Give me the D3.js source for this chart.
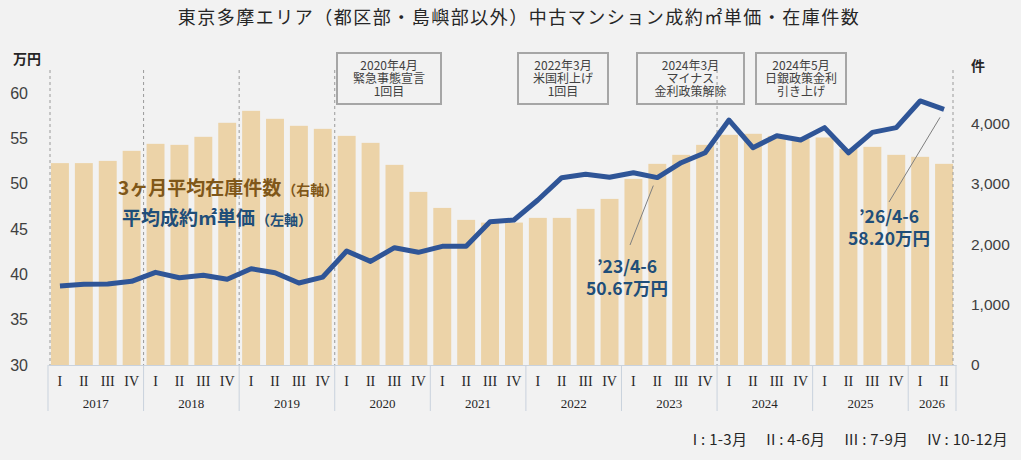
<!DOCTYPE html>
<html>
<head>
<meta charset="utf-8">
<script src="https://cdn.jsdelivr.net/npm/d3@7"></script>
<style>
body { margin: 0; background: #f2f2f2; }
text { font-family: "Noto Sans CJK JP", "Noto Sans", sans-serif; }
</style>
</head>
<body>
<div id="chart"></div>
<script>
// Data

var years = [2017, 2018, 2019, 2020, 2021, 2022, 2023, 2024, 2025, 2026];
var quarters = ["I", "II", "III", "IV"];

// 3ヶ月平均在庫件数 (右軸)
var inventory = [3340, 3340, 3377, 3543, 3659, 3642, 3775, 4007, 4205, 4073, 3957, 3907,
  3791, 3675, 3311, 2864, 2599, 2401, 2356, 2356, 2434, 2434, 2583, 2748,
  3079, 3328, 3477, 3642, 3808, 3825, 3790, 3740, 3764, 3576, 3609, 3477,
  3444, 3328];

// 平均成約㎡単価 (左軸, 万円)
var price = [38.71, 38.90, 38.93, 39.23, 40.22, 39.63, 39.89, 39.45, 40.62, 40.18, 39.04, 39.70,
  42.57, 41.43, 42.94, 42.43, 43.09, 43.09, 45.81, 45.99, 48.20, 50.66, 51.03, 50.70,
  51.21, 50.67, 52.31, 53.41, 57.02, 53.97, 55.29, 54.82, 56.18, 53.41, 55.66, 56.18,
  59.12, 58.20];

var leftTicks = [30, 35, 40, 45, 50, 55, 60];
var rightTicks = [0, 1000, 2000, 3000, 4000];

var events = [
  ["2020年4月", "緊急事態宣言", "1回目"],
  ["2022年3月", "米国利上げ", "1回目"],
  ["2024年3月", "マイナス", "金利政策解除"],
  ["2024年5月", "日銀政策金利", "引き上げ"]
];
var eventBoxX = [337, 518, 637, 756];
var eventBoxW = [104, 90, 107, 90];

// period index of the dashed divider lines
var dividers = [0, 4, 8, 12, 28, 38];

var callouts = [
  {i: 25, lines: ["’23/4-6", "50.67万円"]},
  {i: 37, lines: ["’26/4-6", "58.20万円"]}
];

var periods = [];
years.forEach(function(y) {
  quarters.forEach(function(q) {
    if (periods.length < inventory.length) periods.push(y + "-" + q);
  });
});

var W = 1021, H = 460;
var plotTop = 93, plotBottom = 365;

var x = d3.scaleBand()
    .domain(periods)
    .range([48, 956])
    .paddingInner(0.25)
    .paddingOuter(0.125);

var yLeft = d3.scaleLinear().domain([30, 60]).range([plotBottom, plotTop]);
var yRight = d3.scaleLinear().domain([0, 4500]).range([plotBottom, plotTop]);

var svg = d3.select("#chart").append("svg")
    .attr("width", W)
    .attr("height", H);

svg.append("rect").attr("width", W).attr("height", H).attr("fill", "#f2f2f2");

// Title
svg.append("text")
    .attr("x", 519)
    .attr("y", 24)
    .attr("text-anchor", "middle")
    .style("font-size", "18px")
    .style("letter-spacing", "1.5px")
    .attr("fill", "#262626")
    .text("東京多摩エリア（都区部・島嶼部以外）中古マンション成約㎡単価・在庫件数");

// Bars
svg.append("g").selectAll(".bar")
    .data(inventory)
    .enter().append("rect")
    .attr("class", "bar")
    .attr("x", function(d, i) { return x(periods[i]); })
    .attr("y", function(d) { return yRight(d); })
    .attr("width", x.bandwidth())
    .attr("height", function(d) { return plotBottom - yRight(d); })
    .attr("fill", "#ecd3a8");

// Dashed divider lines
var step = x.step();
svg.append("g").selectAll(".divider")
    .data(dividers)
    .enter().append("line")
    .attr("x1", function(d) { return 48 + step * d + (d === 0 ? 2 : d === 38 ? -3 : 0); })
    .attr("x2", function(d) { return 48 + step * d + (d === 0 ? 2 : d === 38 ? -3 : 0); })
    .attr("y1", 70)
    .attr("y2", plotBottom)
    .attr("stroke", "#9a9a9a")
    .attr("stroke-width", 1)
    .attr("stroke-dasharray", "3,3");

// Event boxes
var boxes = svg.append("g").selectAll(".event")
    .data(events)
    .enter().append("g")
    .attr("class", "event");

boxes.append("rect")
    .attr("x", function(d, i) { return eventBoxX[i]; })
    .attr("y", 53)
    .attr("width", function(d, i) { return eventBoxW[i]; })
    .attr("height", 51)
    .attr("fill", "none")
    .attr("stroke", "#a6a6a6")
    .attr("stroke-width", 2);

boxes.append("text")
    .attr("text-anchor", "middle")
    .style("font-size", "12px")
    .attr("fill", "#404040")
    .each(function(d, i) {
      var t = d3.select(this);
      var cx = eventBoxX[i] + eventBoxW[i] / 2;
      d.forEach(function(line, k) {
        t.append("tspan")
            .attr("x", cx)
            .attr("y", 69.5 + k * 13.4)
            .text(line);
      });
    });

// Price line
var line = d3.line()
    .x(function(d, i) { return x(periods[i]) + x.bandwidth() / 2; })
    .y(function(d) { return yLeft(d); });

svg.append("path")
    .datum(price)
    .attr("d", line)
    .attr("fill", "none")
    .attr("stroke", "#2f5597")
    .attr("stroke-width", 5)
    .attr("stroke-linejoin", "round");

// Left axis
var leftAxis = svg.append("g")
    .attr("transform", "translate(28,0)")
    .call(d3.axisLeft(yLeft).tickValues(leftTicks).tickSize(0).tickPadding(0));
leftAxis.select(".domain").remove();
leftAxis.selectAll("text")
    .style("font-family", "'Liberation Sans', Arial, sans-serif")
    .style("font-size", "16px")
    .attr("fill", "#404040");

// Right axis
var rightAxis = svg.append("g")
    .attr("transform", "translate(971,0)")
    .call(d3.axisRight(yRight).tickValues(rightTicks).tickFormat(d3.format(",")).tickSize(0).tickPadding(0));
rightAxis.select(".domain").remove();
rightAxis.selectAll("text")
    .style("font-family", "'Liberation Sans', Arial, sans-serif")
    .style("font-size", "15.5px")
    .attr("fill", "#404040");

// Unit labels
svg.append("text").attr("x", 13).attr("y", 64)
    .style("font-size", "14px").style("font-weight", "bold").attr("fill", "#262626")
    .text("万円");
svg.append("text").attr("x", 971).attr("y", 71)
    .style("font-size", "14px").style("font-weight", "bold").attr("fill", "#262626")
    .text("件");

// Bottom category axis
var bottomAxis = svg.append("g")
    .attr("transform", "translate(0," + plotBottom + ")")
    .call(d3.axisBottom(x).tickSize(0).tickPadding(11)
      .tickFormat(function(d) { return d.split("-")[1]; }));
bottomAxis.select(".domain").attr("stroke", "#c9d2dd");
bottomAxis.selectAll("text")
    .style("font-family", "'Liberation Serif', 'DejaVu Serif', serif")
    .style("font-size", "14px")
    .attr("fill", "#262626");

var yearBounds = years.map(function(y, k) {
  var first = periods.indexOf(y + "-I");
  var n = periods.filter(function(p) { return p.indexOf(y + "-") === 0; }).length;
  return {year: y, x0: 48 + step * first, x1: 48 + step * (first + n)};
});

svg.append("g").selectAll(".yearSep")
    .data([yearBounds[0].x0].concat(yearBounds.map(function(d) { return d.x1; })))
    .enter().append("line")
    .attr("x1", function(d) { return d; })
    .attr("x2", function(d) { return d; })
    .attr("y1", plotBottom)
    .attr("y2", 411)
    .attr("stroke", "#c9d2dd");

svg.append("g").selectAll(".yearText")
    .data(yearBounds)
    .enter().append("text")
    .attr("x", function(d) { return (d.x0 + d.x1) / 2; })
    .attr("y", 407.5)
    .attr("text-anchor", "middle")
    .style("font-family", "'Liberation Serif', 'DejaVu Serif', serif")
    .style("font-size", "13px")
    .attr("fill", "#262626")
    .text(function(d) { return d.year; });

// Series labels
var lab1 = svg.append("text").attr("x", 118).attr("y", 195)
    .style("font-weight", "bold").attr("fill", "#7f5719");
lab1.append("tspan").style("font-size", "19px").text("3ヶ月平均在庫件数");
lab1.append("tspan").style("font-size", "14px").attr("dx", 1).text("（右軸）");

var lab2 = svg.append("text").attr("x", 122).attr("y", 225)
    .style("font-weight", "bold").attr("fill", "#1f4e79");
lab2.append("tspan").style("font-size", "19px").text("平均成約㎡単価");
lab2.append("tspan").style("font-size", "14px").attr("dx", 1).text("（左軸）");

// Callouts
var calloutPos = [
  {tx: 627, ty: 273, lx: 630, ly: 245},
  {tx: 889, ty: 223, lx: 889, ly: 202}
];
callouts.forEach(function(c, k) {
  var p = calloutPos[k];
  var px = x(periods[c.i]) + x.bandwidth() / 2;
  var py = yLeft(price[c.i]);
  svg.append("line")
      .attr("x1", p.lx).attr("y1", p.ly)
      .attr("x2", px - 4).attr("y2", py + 8)
      .attr("stroke", "#7f7f7f").attr("stroke-width", 1);
  var t = svg.append("text")
      .attr("text-anchor", "middle")
      .style("font-size", "17.5px")
      .style("font-weight", "bold")
      .attr("fill", "#1f4e79");
  c.lines.forEach(function(s, j) {
    t.append("tspan")
        .attr("x", p.tx)
        .attr("y", p.ty + j * 21.5)
        .text(s);
  });
});

// Footnote
svg.append("text")
    .attr("x", 1008)
    .attr("y", 445)
    .attr("text-anchor", "end")
    .style("font-size", "15px")
    .style("letter-spacing", "0.3px")
    .attr("fill", "#262626")
    .text("I : 1-3月　 II : 4-6月　 III : 7-9月　 IV : 10-12月");
</script>
</body>
</html>
